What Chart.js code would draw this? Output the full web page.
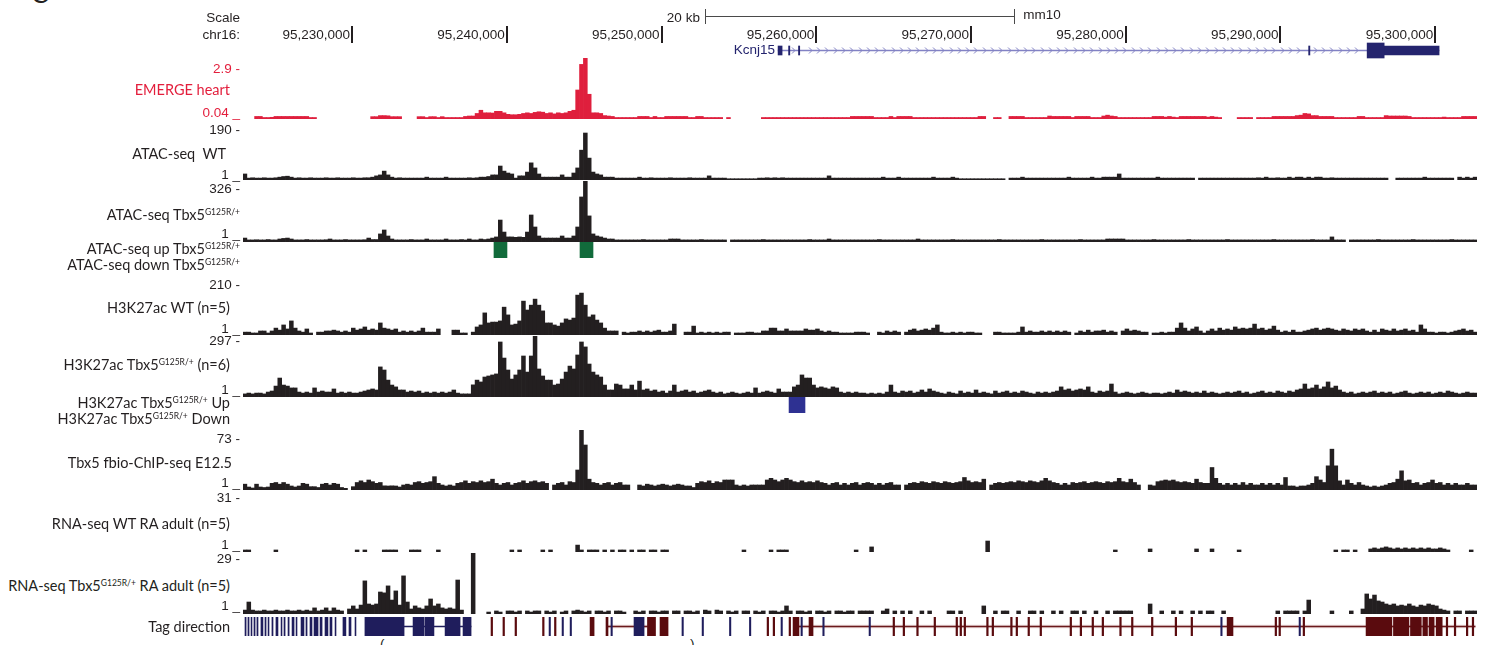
<!DOCTYPE html>
<html><head><meta charset="utf-8">
<script src="https://cdn.jsdelivr.net/npm/chart.js@4.4.1/dist/chart.umd.min.js"></script>
<style>
html,body{margin:0;padding:0;background:#fff;}
body{width:1488px;height:645px;position:relative;overflow:hidden;}
canvas{position:absolute;}
.t{position:absolute;white-space:nowrap;line-height:1;transform:translateY(-50%);}
.num{font-family:"Liberation Sans",Arial,sans-serif;font-size:13.5px;color:#231f20;}
.lab{font-family:Lato,"Open Sans",sans-serif;font-size:14.5px;color:#231f20;}
.red{color:#e31e3c;}
.navy{color:#24246e;}
.sup{font-size:8.5px;position:relative;top:-5px;}
</style></head><body>
<script>
const _ = null;
// genomic window (kb), 250 bp bins
const X0 = 95222.95, BIN = 0.25, NBINS = 319, X1 = X0 + NBINS * BIN;
const LEFT = 243, W = 1234;
const INK = '#231f20';

const RULER_TICKS = [95230, 95240, 95250, 95260, 95270, 95280, 95290, 95300];
const RULER_LABELS = ['95,230,000','95,240,000','95,250,000','95,260,000','95,270,000','95,280,000','95,290,000','95,300,000'];
const SCALE_BAR = [95252.8, 95272.8];

const GENE_SPAN = [95257.53, 95300.25];
const GENE_UTR = [[95257.53,95257.79],[95258.21,95258.29],[95258.85,95258.93],[95291.82,95291.90],[95296.70,95300.25]];
const GENE_CDS = [[95295.60,95296.70]];

const EMERGE = [
_,_,_,0.16,0.16,0.11,0.11,0.12,0.16,0.16, 0.16,0.16,0.16,0.16,0.16,0.16,0.16,0.11,0.11,_,
_,_,_,_,_,_,_,_,_,_, _,_,_,0.15,0.15,0.2,0.2,0.19,0.15,0.15,
0.15,_,_,_,_,0.15,0.15,0.11,0.15,0.15, 0.11,0.15,0.11,0.11,0.11,0.11,0.11,0.16,0.18,0.18,
0.30,0.45,0.33,0.33,0.32,0.40,0.40,0.33,0.26,0.24, 0.24,0.26,0.30,0.33,0.30,0.35,0.38,0.36,0.30,0.33,
0.28,0.33,0.30,0.33,0.40,0.45,1.4,2.6,3.0,1.2, 0.33,0.33,0.30,0.20,0.18,0.16,0.11,0.11,0.11,0.11,
0.11,0.11,0.16,0.16,0.16,0.11,0.16,0.11,0.11,0.16, 0.16,0.16,0.16,0.16,0.16,0.11,0.11,0.16,0.16,0.11,
0.11,0.11,0.11,0.11,_,0.11,_,_,_,_, _,_,_,_,0.11,0.11,0.11,0.11,0.11,0.11,
0.11,0.11,0.11,0.11,0.11,0.11,0.11,0.11,0.11,0.11, 0.11,0.11,0.11,0.11,0.11,0.11,0.11,0.16,0.16,0.16,
0.16,0.16,0.16,0.11,0.11,0.11,0.11,0.16,0.11,0.16, 0.16,0.16,0.16,0.11,0.11,0.11,0.11,0.11,0.11,0.11,
0.11,0.11,0.11,0.11,0.11,0.11,0.11,0.11,0.11,0.11, 0.16,0.16,_,_,0.11,0.11,_,_,0.16,0.16,
0.16,0.16,0.11,0.11,0.11,0.11,0.11,0.11,0.18,0.16, 0.16,0.16,0.16,0.16,0.11,0.16,0.16,0.16,0.16,0.11,
0.11,0.11,0.18,0.22,0.18,0.16,0.11,0.11,0.11,0.11, 0.11,0.11,0.11,0.11,0.11,0.16,0.16,0.16,0.13,0.16,
0.13,0.11,0.16,0.16,0.16,0.16,0.16,0.16,0.16,0.13, 0.16,0.13,0.11,_,_,_,_,0.11,0.11,0.11,
0.11,_,0.11,0.11,0.11,0.11,0.16,0.16,0.16,0.16, 0.16,0.16,0.20,0.22,0.30,0.28,0.20,0.20,0.16,0.16,
0.16,0.16,0.11,0.11,0.11,0.11,0.11,0.11,0.16,0.16, 0.11,0.11,0.11,0.11,0.11,0.20,0.18,0.18,0.18,0.18,
0.18,0.16,0.11,0.11,0.11,0.11,0.11,0.11,0.11,0.11, 0.13,0.11,0.11,0.11,0.11,0.16,0.16,0.16,0.16];

const ATAC_WT = [
20,7,8,7,7,8,7,7,8,10, 12,13,10,7,8,7,7,8,7,7,
7,8,7,7,8,7,7,7,8,7, 7,8,8,10,14,17,29,17,10,7,
8,7,7,7,7,7,7,10,7,7, 7,7,10,7,7,7,7,7,8,7,
8,10,10,12,17,17,45,29,23,20, 7,14,14,26,55,39,20,10,10,10,
10,10,17,10,10,23,39,95,149,70, 26,20,17,10,10,10,7,7,7,7,
7,7,10,7,7,8,7,7,7,7, 8,7,7,7,7,8,7,7,7,7,
14,7,7,7,7,5,5,5,5,5, 5,5,5,7,7,8,7,8,7,8,
7,7,7,7,7,7,7,7,7,7, 7,14,7,7,7,7,7,7,7,7,
7,7,7,7,7,10,7,7,7,10, 7,7,7,7,7,7,7,7,10,7,
7,7,7,10,7,5,5,5,5,5, 5,5,5,5,5,5,5,_,7,7,
7,10,7,7,7,7,7,7,7,7, 7,7,7,10,7,7,7,7,7,10,
7,7,10,10,10,10,20,7,7,7, 7,7,7,7,7,7,10,7,7,7,
7,7,7,7,7,7,_,7,7,7, 7,7,7,7,7,7,7,7,7,7,
7,7,8,7,10,7,7,8,7,7, 10,7,10,10,7,10,7,10,10,7,
7,8,7,7,7,7,7,7,7,7, 7,7,7,7,7,7,_,_,7,7,
7,7,7,7,7,10,7,7,7,7, 7,7,7,_,10,7,10,7,10];

const ATAC_TBX5 = [
22,12,12,13,12,12,14,12,12,17, 20,22,17,12,12,12,14,12,12,12,
12,13,17,12,12,12,14,12,12,12, 12,13,22,14,14,44,65,33,17,12,
12,12,12,14,12,12,12,17,12,12, 12,12,17,12,12,12,14,12,17,12,
12,17,14,17,22,28,118,54,28,28, 26,28,26,54,145,81,33,22,22,22,
22,22,33,22,22,33,81,241,326,140, 44,33,28,22,17,17,12,12,12,12,
12,12,12,14,12,12,12,12,12,12, 17,17,17,12,12,12,12,12,14,12,
12,12,12,12,12,_,12,12,12,12, 12,12,12,12,14,12,12,12,12,12,
12,12,12,12,12,12,14,12,12,12, 12,17,12,12,12,12,12,12,12,12,
12,12,12,12,14,12,12,12,12,12, 12,12,12,12,17,12,12,12,12,12,
12,12,12,14,12,12,12,12,12,12, 12,12,12,12,12,14,12,12,12,12,
12,12,12,12,12,12,14,12,12,12, 12,12,12,12,12,12,14,12,12,12,
12,12,12,17,17,17,17,17,12,12, 12,12,12,12,12,14,12,12,12,12,
12,12,12,12,14,12,12,12,12,12, 12,12,12,12,14,12,12,12,12,12,
12,12,12,12,12,12,14,12,12,12, 12,12,12,12,12,12,14,12,12,12,
12,28,12,12,12,_,12,12,12,12, 12,12,12,14,12,12,12,12,12,12,
12,12,14,12,12,12,12,12,12,12, 12,12,14,12,12,12,12,12,12];

const H3K_WT = [
11,11,8,8,15,15,8,15,25,18, 36,22,50,25,15,11,22,8,_,11,
11,15,15,18,15,11,15,11,25,18, 22,29,18,22,18,43,25,22,18,22,
11,15,11,15,11,15,25,11,11,11, 22,_,_,_,18,18,8,8,_,11,
29,36,78,43,46,46,50,98,71,36, 39,50,119,88,105,126,105,85,43,43,
36,32,43,57,53,60,140,147,105,64, 71,53,43,25,15,15,15,_,11,8,
11,11,15,11,15,11,15,18,11,11, 15,39,_,_,11,11,32,8,11,8,
11,8,11,8,11,11,_,8,8,8, 11,11,8,8,15,15,25,25,15,15,
22,15,15,15,15,22,18,18,22,15, 11,15,11,11,8,8,8,8,11,11,
11,8,_,_,11,8,15,11,15,11, _,11,18,22,15,18,22,18,25,36,
11,8,8,11,8,11,8,11,11,8, 8,_,_,_,11,11,8,8,8,8,
11,29,11,15,11,11,15,11,15,11, 15,11,15,11,_,8,15,11,18,11,
15,15,18,11,15,11,_,15,22,15, 18,15,11,11,_,8,8,11,8,11,
11,25,43,25,15,22,29,15,8,15, 22,15,25,18,22,18,29,22,25,22,
25,39,22,25,18,22,32,18,11,15, 11,18,11,11,15,18,22,25,18,22,
25,22,18,15,22,18,15,22,18,22, 15,11,18,11,22,18,15,22,15,18,
22,15,18,11,36,22,11,11,8,11, 11,8,11,15,18,22,15,18,11];

const H3K_TBX5 = [
16,20,16,20,20,16,25,30,54,93, 59,54,45,45,25,20,25,20,45,25,
30,25,25,40,20,25,20,25,20,20, 25,30,35,40,35,147,132,83,59,50,
35,35,25,30,25,30,20,25,20,25, 20,25,20,25,35,20,16,16,16,60,
83,74,98,103,108,113,268,190,132,88, 108,132,200,122,200,297,137,103,83,83,
59,64,88,122,151,137,205,268,244,161, 122,108,98,59,35,35,64,59,40,40,
59,35,78,35,40,30,35,25,30,20, 30,59,25,30,35,25,30,20,25,30,
35,25,20,25,16,20,25,20,16,20, 25,20,45,20,25,30,25,20,40,25,
25,25,50,59,108,93,93,59,45,50, 45,40,50,45,25,20,25,20,25,20,
20,16,20,16,20,16,25,59,25,20, 30,25,30,20,25,35,25,40,30,25,
20,16,25,20,16,30,20,25,20,35, 20,25,20,16,30,20,25,30,20,25,
20,30,25,20,16,25,20,25,20,25, 30,50,35,40,30,35,40,35,50,25,
20,30,25,30,64,25,16,20,25,20, 16,20,25,20,16,20,20,16,20,25,
20,35,25,30,25,20,25,20,30,20, 25,20,16,20,25,20,25,30,20,25,
16,20,25,30,20,25,20,30,25,20, 30,25,35,40,64,40,45,59,40,50,
74,45,54,35,25,20,25,16,20,25, 20,25,30,20,25,20,25,16,20,25,
30,20,16,20,25,20,25,16,20,25, 20,30,25,20,16,20,25,20,20];

const TBX5_CHIP = [
8,4.6,3.4,8,4.6,4,4.6,9,10,8, 10,8,5.8,4.6,5.8,9,8,5,5,4,
8,9,7,9,8,4,3,_,5,10, 12,10,13,11,9,10,6,5.8,6,5.8,
4.6,7,8,7,10,11,9,10,11,17, 9,7,5.8,7,5.8,9,10,12,9,11,
10,12,10,11,14,9,7,9,10,7, 9,10,12,9,11,12,10,11,9,_,
7,9,10,7,11,10,25,73,55,14, 10,9,7,9,10,7,9,10,7,7,
_,_,7,5.8,8,7,5.8,7,8,7, 5.8,7,8,7,5.8,5.8,4,9,11,10,
12,9,11,10,13,13,13,7,5.8,7, 5.8,7,7,7,7,13,15,13,11,13,
15,13,11,10,12,10,11,10,12,10, 9,7,9,10,7,9,7,9,10,7,
9,10,9,7,9,7,9,10,7,7, _,7,9,10,9,11,10,9,11,10,
9,11,10,9,10,11,16,12,10,11, 10,14,_,7,9,10,9,10,11,10,
12,11,10,12,11,10,12,15,12,10, 9,7,9,7,10,9,10,11,9,10,
11,10,9,11,10,11,15,11,10,14, 10,7,_,_,7,6,11,12,13,12,
13,11,10,11,10,9,14,10,9,9, 28,15,9,7,9,7,9,7,10,7,
9,7,7,9,7,9,7,9,7,16, 5.8,5.8,4.6,5.8,5.8,7,9,17,13,10,
30,50,30,12,7,13,9,7,10,7, 5.8,4.6,5.8,4.6,5.8,7,9,10,14,24,
12,13,9,10,7,9,10,13,9,10, 7,9,7,9,7,7,9,7,7];

const RNA_WT = [
2,2,_,_,_,_,_,_,2,_, _,_,_,_,_,_,_,_,_,_,
_,_,_,_,_,_,_,_,_,2, _,2,_,_,_,_,2,2,2,2,
_,_,_,2,2,2,_,_,_,_, 2,_,_,_,_,_,_,_,_,_,
_,_,_,_,_,_,_,_,_,2, _,2,_,_,_,_,_,2,_,2,
_,_,_,_,_,_,4.4,2,_,2, 2,2,_,2,_,2,_,2,2,_,
2,_,2,2,_,2,2,_,2,2, _,_,_,_,_,_,_,_,_,_,
_,_,_,_,_,_,_,_,_,2, _,_,_,_,_,_,2,_,2,2,
2,_,_,_,_,_,_,_,_,_, _,_,_,_,_,_,_,_,2,_,
_,_,3.5,_,_,_,_,_,_,_, _,_,_,_,_,_,_,_,_,_,
_,_,_,_,_,_,_,_,_,_, _,_,6.4,_,_,_,_,_,_,_,
_,_,_,_,_,_,_,_,_,_, _,_,_,_,_,_,_,_,_,_,
_,_,_,_,_,2,_,_,_,_, _,_,_,_,2.5,_,_,_,_,_,
_,_,_,_,_,_,2.5,_,_,_, 2.5,_,_,_,_,_,_,2,_,_,
_,_,_,_,_,_,_,_,_,_, _,_,_,_,_,_,_,_,_,_,
_,_,2,_,2,2,_,2,_,_, _,2.5,3,2.5,3,3.5,3,2.5,3,2.5,
3,2.5,3,2.5,3,2.5,3,2.5,2.5,3, 2.5,2,_,_,_,_,_,2,_];

const RNA_TBX5 = [
2.8,6.5,2.8,2.4,2.4,2.8,2.4,2.4,2.8,2.4, 2.4,2.8,2.4,2.4,2.8,2.4,2.8,2.4,3.8,2.4,
2.8,3.8,2.4,3.8,2.8,2.4,_,3.3,4.7,3.3, 5.1,16.2,5.6,5.1,5.6,11.1,10.7,13.9,7.4,11.6,
5.1,18.5,6.5,3.3,4.7,3.8,3.3,4.7,7.9,4.7, 5.6,3.8,3.3,3.8,3.3,16.6,2.8,_,_,29,
_,_,_,1.9,_,2.4,1.9,_,2.4,2.4, 1.9,2.4,_,2.4,1.9,2.4,2.4,_,2.4,1.9,
2.4,_,1.9,2.4,_,2.4,2.8,2.4,1.9,2.4, _,2.4,2.4,1.9,2.4,_,2.4,2.4,1.9,_,
_,2.4,1.9,2.4,_,2.4,2.4,1.9,2.4,2.4, _,2.4,2.4,_,2.4,2.4,1.9,2.4,_,2.8,
2.4,_,2.8,2.4,_,2.4,1.9,2.4,_,2.4, 2.4,_,2.4,1.9,2.4,_,2.4,2.4,1.9,2.4,
4.7,2.4,_,2.4,2.4,1.9,2.4,_,2.4,2.4, 1.9,2.4,_,2.4,2.4,1.9,2.4,2.4,_,2.4,
2.4,2.4,2.4,_,_,2.4,3.3,_,2.4,_, 2.4,_,2.4,_,_,2.4,_,2.4,_,_,
_,_,2.4,2.4,_,2.4,_,_,_,_, _,4.7,_,_,2.4,_,2.4,2.4,_,_,
2.4,_,_,2.4,2.4,_,2.4,_,_,2.4, _,2.4,_,_,2.4,2.4,_,2.4,_,_,
2.4,_,_,2.4,_,2.4,2.4,2.4,2.4,2.4, _,_,_,_,5.6,_,_,2.4,_,_,
2.4,_,2.4,_,_,2.4,_,2.4,_,2.4, 2.4,_,_,2.4,_,_,_,_,_,_,
_,_,_,_,_,_,_,2.4,_,2.4, 2.4,2.4,2.4,_,2.4,7.4,_,_,_,_,
_,2.4,_,_,_,_,2.4,_,_,3.3, 10.2,7.9,9.7,7,6.5,5.6,5.1,5.6,4.7,5.1,
4.7,5.6,4.7,4.2,5.1,4.7,5.6,5.1,4.7,3.3, 2.8,2.4,_,2.4,2.4,_,2.4,2.4,2.4];

const ATAC_UP = [[95239.17,95240.01],[95244.73,95245.57]];
const H3K_UP = [[95258.24,95259.27]];

const TAG_PLUS = [[95223.08,95223.15],[95223.27,95223.34],[95223.47,95223.53],[95223.66,95223.73],[95223.85,95223.92],[95224.11,95224.24],[95224.37,95224.44],[95224.57,95224.63],[95224.82,95224.89],[95225.08,95225.21],[95225.41,95225.47],[95225.60,95225.67],[95225.86,95225.93],[95226.12,95226.25],[95226.38,95226.44],[95226.70,95226.89],[95227.02,95227.09],[95227.28,95227.41],[95227.54,95227.80],[95227.93,95228.06],[95228.25,95228.44],[95228.57,95228.70],[95228.90,95228.96],[95229.41,95229.60],[95229.80,95229.93],[95230.19,95230.25],[95230.83,95233.36],[95233.94,95234.65],[95234.71,95235.29],[95236.01,95236.98],[95237.17,95237.69],
[95242.73,95242.82],[95243.57,95243.66],[95244.09,95244.18],[95246.73,95246.82],[95248.22,95248.87],[95251.32,95251.41],[95252.62,95252.71],[95254.39,95254.48],[95255.68,95255.77],[95257.72,95257.81],[95259.01,95259.10],[95260.42,95260.51],[95263.41,95263.50],[95286.14,95286.23],[95291.20,95291.29]];
const TAG_MINUS = [[95238.98,95239.08],[95239.75,95239.85],[95240.53,95240.63],[95242.31,95242.41],[95243.08,95243.18],[95245.38,95245.64],[95246.41,95246.54],[95249.09,95249.61],[95249.90,95250.42],[95256.82,95256.92],[95257.21,95257.31],[95258.24,95258.34],[95258.50,95258.88],[95259.53,95259.79],[95264.96,95265.06],[95265.61,95265.71],[95266.49,95266.59],[95267.61,95267.71],[95269.03,95269.13],[95269.29,95269.39],[95269.55,95269.65],[95271.01,95271.11],[95271.36,95271.46],[95272.56,95272.66],[95272.91,95273.01],[95273.68,95273.78],[95274.46,95274.56],[95276.40,95276.50],[95277.05,95277.15],[95277.82,95277.92],[95278.47,95278.57],[95279.61,95279.71],[95280.37,95280.47],[95281.66,95281.76],[95283.19,95283.29],[95284.22,95284.32],[95286.55,95286.93],[95289.65,95289.75],[95289.90,95290.00],[95291.46,95291.56],[95295.53,95297.20],[95297.30,95298.30],[95298.40,95299.10],[95299.20,95299.50],[95299.60,95299.93],[95300.06,95300.45],[95300.71,95300.81],[95301.23,95301.33],[95302.01,95302.11],[95302.39,95302.49]];
const TAG_LINE_PLUS = [[95233.36,95237.69]];
const TAG_LINE_MINUS = [[95246.54,95249.09],[95258.88,95302.58]];

const LABELS = [
 ['Scale',240,18,'num'],['chr16:',240,35,'num'],
 ['2.9 -',240,69,'num red'],['EMERGE heart',230,90,'lab red'],['0.04 _',240,113,'num red'],
 ['190 -',240,130,'num'],['ATAC-seq&nbsp; WT',226,154,'lab'],['1 _',240,175,'num'],
 ['326 -',240,189,'num'],['ATAC-seq Tbx5<span class="sup">G125R/+</span>',240,215,'lab'],['1 _',240,234,'num'],
 ['ATAC-seq up Tbx5<span class="sup">G125R/+</span>',240,249,'lab'],['ATAC-seq down Tbx5<span class="sup">G125R/+</span>',240,265,'lab'],
 ['210 -',240,285,'num'],['H3K27ac WT (n=5)',230,308,'lab'],['1 _',240,329,'num'],
 ['297 -',240,341,'num'],['H3K27ac Tbx5<span class="sup">G125R/+</span> (n=6)',230,365,'lab'],['1 _',240,390,'num'],
 ['H3K27ac Tbx5<span class="sup">G125R/+</span> Up',230,403,'lab'],['H3K27ac Tbx5<span class="sup">G125R/+</span> Down',230,419,'lab'],
 ['73 -',240,439,'num'],['Tbx5 fbio-ChIP-seq E12.5',232,463,'lab'],['1 _',240,483,'num'],
 ['31 -',240,498,'num'],['RNA-seq WT RA adult (n=5)',230,524,'lab'],['1 _',240,545,'num'],
 ['29 -',240,559,'num'],['RNA-seq Tbx5<span class="sup">G125R/+</span> RA adult (n=5)',230,586,'lab'],['1 _',240,606,'num'],
 ['Tag direction',230,627,'lab']
];

// ---------- helpers ----------
function addText(html, x, y, cls, alignLeft) {
  const d = document.createElement('div');
  d.className = 't ' + cls;
  if (alignLeft) d.style.left = x + 'px'; else d.style.right = (1488 - x) + 'px';
  d.style.top = y + 'px';
  d.innerHTML = html;
  document.body.appendChild(d);
  return d;
}
function mkCanvas(top, h) {
  const c = document.createElement('canvas');
  c.width = W; c.height = h;
  c.style.left = LEFT + 'px'; c.style.top = top + 'px';
  c.style.width = W + 'px'; c.style.height = h + 'px';
  document.body.appendChild(c);
  return c;
}
const base = () => ({responsive:false, animation:false, events:[], layout:{padding:0},
  plugins:{legend:{display:false}, tooltip:{enabled:false}}});

const BIN_LABELS = [];
for (let i = 0; i < NBINS; i++) BIN_LABELS.push((X0 + i * BIN).toFixed(2));

function signal(top, h, values, min, max, color) {
  const o = base();
  o.scales = {x:{display:false}, y:{display:false, min:min, max:max}};
  return new Chart(mkCanvas(top, h), {type:'bar',
    data:{labels:BIN_LABELS, datasets:[{data:values, backgroundColor:color, borderWidth:0,
      barPercentage:1, categoryPercentage:1}]}, options:o});
}
// "order": lower value is drawn on top
function spanSet(list, color, thick, order) {
  return {data:list.map(s => ({x:[s[0], s[1]], y:'r'})), backgroundColor:color, borderWidth:0,
    barThickness:thick, grouped:false, borderSkipped:false, order:order || 0};
}
function spans(top, h, datasets, plugins) {
  const o = base();
  o.indexAxis = 'y';
  o.scales = {x:{type:'linear', display:false, min:X0, max:X1}, y:{display:false}};
  return new Chart(mkCanvas(top, h), {type:'bar', data:{labels:['r'], datasets:datasets}, options:o, plugins:plugins || []});
}

// ---------- ruler ----------
const rulerPlugin = {id:'ruler', afterDraw(chart) {
  const xs = chart.scales.x, ctx = chart.ctx;
  ctx.save();
  ctx.fillStyle = INK;
  RULER_TICKS.forEach(v => { const px = Math.round(xs.getPixelForValue(v)); ctx.fillRect(px - 1, 26, 2, 17); });
  const a = Math.round(xs.getPixelForValue(SCALE_BAR[0])), b = Math.round(xs.getPixelForValue(SCALE_BAR[1]));
  ctx.fillStyle = '#4a4a4a';
  ctx.fillRect(a, 16, b - a, 1);
  ctx.fillRect(a, 9, 1, 15); ctx.fillRect(b, 9, 1, 15);
  ctx.restore();
}};
const ro = base();
ro.scales = {x:{type:'linear', display:false, min:X0, max:X1}, y:{display:false}};
const ruler = new Chart(mkCanvas(0, 50), {type:'scatter', data:{datasets:[{data:[]}]}, options:ro, plugins:[rulerPlugin]});
RULER_TICKS.forEach((v, i) => addText(RULER_LABELS[i], LEFT + ruler.scales.x.getPixelForValue(v) - 2, 35, 'num'));
addText('20 kb', LEFT + ruler.scales.x.getPixelForValue(SCALE_BAR[0]) - 5, 18, 'num');
addText('mm10', LEFT + ruler.scales.x.getPixelForValue(SCALE_BAR[1]) + 9, 15, 'num', true);

// ---------- gene ----------
const INTRON = '#8282c4', GENE_COL = '#24246e';
const chevPlugin = {id:'chev', beforeDatasetsDraw(chart) {
  const xs = chart.scales.x, ctx = chart.ctx;
  const cy = Math.floor((chart.chartArea.top + chart.chartArea.bottom) / 2) + 0.5;
  const inExon = v => GENE_UTR.concat(GENE_CDS).some(e => v > e[0] - 0.2 && v < e[1] + 0.2);
  ctx.save(); ctx.strokeStyle = INTRON; ctx.lineWidth = 1;
  for (let v = GENE_SPAN[0] + 0.45; v < GENE_SPAN[1]; v += 0.535) {
    if (inExon(v)) continue;
    const px = Math.round(xs.getPixelForValue(v)) + 0.5;
    ctx.beginPath(); ctx.moveTo(px - 1.5, cy - 3); ctx.lineTo(px + 1.5, cy); ctx.lineTo(px - 1.5, cy + 3); ctx.stroke();
  }
  ctx.restore();
}};
const gene = spans(37, 27, [
  spanSet([GENE_SPAN], INTRON, 1, 3),
  spanSet(GENE_UTR, GENE_COL, 9, 1),
  spanSet(GENE_CDS, GENE_COL, 15, 0)], [chevPlugin]);
addText('Kcnj15', LEFT + gene.scales.x.getPixelForValue(GENE_SPAN[0]) - 3, 50, 'num navy');

// ---------- signal tracks ----------
signal(58, 61, EMERGE, 0.04, 2.9, '#df1f3d');
signal(120, 60, ATAC_WT, 1, 190, INK);
signal(181, 61, ATAC_TBX5, 1, 326, INK);
spans(242, 16, [spanSet(ATAC_UP, '#116b3b', 16)]);
signal(275, 60, H3K_WT, 1, 210, INK);
signal(336, 61, H3K_TBX5, 1, 297, INK);
spans(397, 16, [spanSet(H3K_UP, '#2e3192', 16)]);
signal(430, 60, TBX5_CHIP, 1, 73, INK);
signal(491, 61, RNA_WT, 1, 31, INK);
signal(553, 61, RNA_TBX5, 1, 29, INK);

// ---------- tag direction ----------
spans(617, 19, [
  spanSet(TAG_LINE_MINUS, '#ecdada', 3, 4),
  spanSet(TAG_LINE_MINUS, '#6a1a1c', 1, 3),
  spanSet(TAG_LINE_PLUS, '#1f1d5c', 1, 2),
  spanSet(TAG_PLUS, '#1f1d5c', 19, 1),
  spanSet(TAG_MINUS, '#5a0b0e', 19, 0)
]);

// ---------- labels ----------
LABELS.forEach(l => addText(l[0], l[1], l[2], l[3]));
addText('C', 31, -6, 'num', true).style.fontSize = '26px';
addText('(', 380, 644, 'num', true);
addText(')', 690, 644, 'num', true);
</script>
</body></html>
